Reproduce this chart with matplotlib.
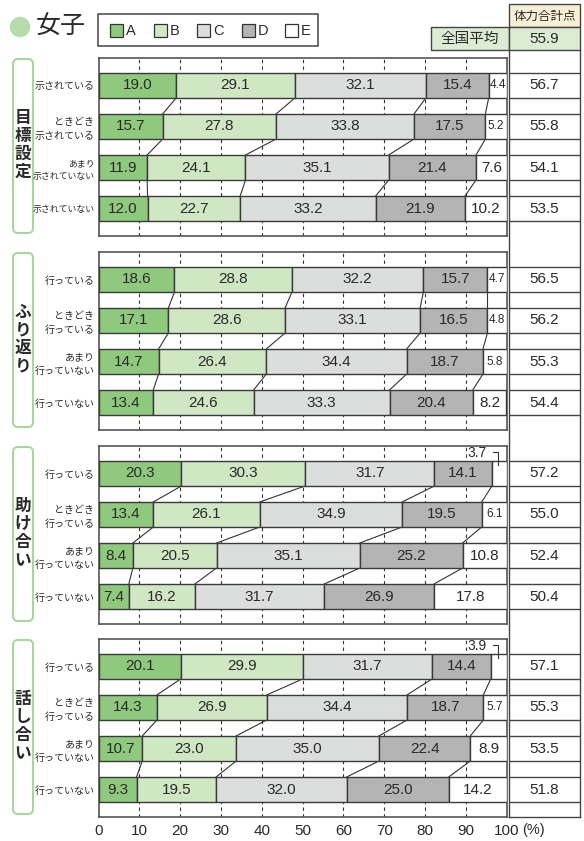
import matplotlib
matplotlib.use("Agg")
import matplotlib.pyplot as plt
from matplotlib.patches import Rectangle, FancyBboxPatch, Circle
import numpy as np

plt.rcParams['font.family'] = ['Noto Sans CJK JP', 'DejaVu Sans']

# ---------------- data ----------------
groups = ['目標設定', 'ふり返り', '助け合い', '話し合い']
row_labels_goal = ['示されている', 'ときどき\n示されている', 'あまり\n示されていない', '示されていない']
row_labels_act = ['行っている', 'ときどき\n行っている', 'あまり\n行っていない', '行っていない']
categories = ['A', 'B', 'C', 'D', 'E']

A_vals = [[19.0, 15.7, 11.9, 12.0], [18.6, 17.1, 14.7, 13.4], [20.3, 13.4, 8.4, 7.4], [20.1, 14.3, 10.7, 9.3]]
B_vals = [[29.1, 27.8, 24.1, 22.7], [28.8, 28.6, 26.4, 24.6], [30.3, 26.1, 20.5, 16.2], [29.9, 26.9, 23.0, 19.5]]
C_vals = [[32.1, 33.8, 35.1, 33.2], [32.2, 33.1, 34.4, 33.3], [31.7, 34.9, 35.1, 31.7], [31.7, 34.4, 35.0, 32.0]]
D_vals = [[15.4, 17.5, 21.4, 21.9], [15.7, 16.5, 18.7, 20.4], [14.1, 19.5, 25.2, 26.9], [14.4, 18.7, 22.4, 25.0]]
E_vals = [[4.4, 5.2, 7.6, 10.2], [4.7, 4.8, 5.8, 8.2], [3.7, 6.1, 10.8, 17.8], [3.9, 5.7, 8.9, 14.2]]
scores = [[56.7, 55.8, 54.1, 53.5], [56.5, 56.2, 55.3, 54.4], [57.2, 55.0, 52.4, 50.4], [57.1, 55.3, 53.5, 51.8]]
national_avg = 55.9
x_ticks = [0, 10, 20, 30, 40, 50, 60, 70, 80, 90, 100]

colors = ['#8ec97e', '#d0e7c4', '#dcdddd', '#b4b4b4', '#ffffff']
edge = '#3a3a3a'
txt = '#2a2a2a'
num_font = ['Liberation Sans', 'DejaVu Sans']
narrow_font = ['Liberation Sans Narrow', 'Liberation Sans', 'DejaVu Sans']

W, H = 584, 841
fig = plt.figure(figsize=(W / 100, H / 100), dpi=100)


def fbox(x0, y0, x1, y1):
    return [x0 / W, 1 - y1 / H, (x1 - x0) / W, (y1 - y0) / H]


# overlay for decorations (pixel coordinates)
ov = fig.add_axes([0, 0, 1, 1], zorder=0)
ov.set_xlim(0, W)
ov.set_ylim(H, 0)
ov.axis('off')

panel_tops = [58, 252, 446, 639]
panel_h = 178
ax_left, ax_right = 98.6, 506.6
col_left, col_right = 509, 580
bar_h = 0.61
ylim = (3.67, -0.67)

# header
ov.add_patch(Circle((20, 27), 9.5, color='#b5dcaa', zorder=2))
ov.text(36, 27, '女子', fontsize=18, va='center', ha='left', color=txt)
ov.add_patch(Rectangle((98, 14), 220, 32, fill=False, ec='#444', lw=1.1))
leg_x = [110, 154, 197, 242, 285]
for cx, col, lab in zip(leg_x, colors, categories):
    ov.add_patch(Rectangle((cx, 24), 13, 13, fc=col, ec='#333', lw=0.9))
    ov.text(cx + 16, 31, lab, fontsize=10.5, va='center', ha='left', family=num_font, color=txt)

ov.add_patch(Rectangle((col_left, 4), col_right - col_left, 23, fc='#f8f0d4', ec='#444', lw=1.0))
ov.text((col_left + col_right) / 2, 16, '体力合計点', fontsize=9, ha='center', va='center', color=txt)
ov.add_patch(Rectangle((431, 27), col_left - 431, 23, fc='#dcebd3', ec='#444', lw=1.0))
ov.text(470, 39, '全国平均', fontsize=10.5, ha='center', va='center', color=txt)
ov.add_patch(Rectangle((col_left, 27), col_right - col_left, 23, fc='#dcebd3', ec='#444', lw=1.0))
ov.text((col_left + col_right) / 2, 39, f'{national_avg:.1f}', fontsize=11, ha='center', va='center',
        family=num_font, color=txt)

# right column vertical lines
bottom_y = panel_tops[-1] + panel_h
ov.plot([col_left, col_left], [50, bottom_y], color='#444', lw=1.0)
ov.plot([col_right, col_right], [50, bottom_y], color='#444', lw=1.0)
ov.plot([col_left, col_right], [bottom_y, bottom_y], color='#444', lw=1.0)
ov.text(522, 830, '(%)', fontsize=10.5, ha='left', va='center', color=txt, family=num_font)

for g, top in enumerate(panel_tops):
    ax = fig.add_axes(fbox(ax_left, top, ax_right, top + panel_h), zorder=2)
    ax.set_xlim(0, 100)
    ax.set_ylim(*ylim)
    rows = np.arange(4)
    vals = np.array([A_vals[g], B_vals[g], C_vals[g], D_vals[g], E_vals[g]])
    cum = np.vstack([np.zeros(4), np.cumsum(vals, axis=0)])

    # dashed grid
    for xv in x_ticks[1:-1]:
        ax.axvline(xv, color='#333', lw=0.8, ls=(0, (3, 3)), zorder=1)

    for k in range(5):
        ax.barh(rows, vals[k], left=cum[k], height=bar_h, color=colors[k], edgecolor=edge,
                lw=1.0, zorder=3)

    # connectors
    for i in range(3):
        for k in range(1, 5):
            ax.plot([cum[k][i], cum[k][i + 1]], [i + bar_h / 2, i + 1 - bar_h / 2],
                    color='#333', lw=0.8, zorder=2)

    # labels
    for i in rows:
        for k in range(5):
            v = vals[k][i]
            xc = cum[k][i] + v / 2
            if k == 4 and v < 4:
                ax.text(92.8, i - bar_h / 2 - 0.2, f'{v:.1f}', ha='center', va='center',
                        fontsize=10, family=num_font, color=txt, zorder=5)
                ax.plot([96.6, 98, 98], [i - 0.53, i - 0.53, i - 0.21], color='#333', lw=0.8,
                        zorder=5, clip_on=False)
            elif k == 4 and v < 7:
                ax.text(xc, i, f'{v:.1f}', ha='center', va='center', fontsize=8.5,
                        family=narrow_font, color=txt, zorder=5)
            else:
                ax.text(xc, i, f'{v:.1f}', ha='center', va='center', fontsize=11,
                        family=num_font, color=txt, zorder=5)

    labels = row_labels_goal if g == 0 else row_labels_act
    ax.set_yticks(rows)
    tls = ax.set_yticklabels(labels, fontsize=7.2, color=txt, linespacing=1.45)
    for t, lab in zip(tls, labels):
        longest = max(len(s) for s in lab.split('\n'))
        if longest >= 7:
            t.set_fontsize(6.4)
    ax.tick_params(axis='y', length=0, pad=3)
    ax.set_xticks(x_ticks)
    if g == 3:
        ax.set_xticklabels([str(t) for t in x_ticks], fontsize=11, family=num_font, color=txt)
        ax.tick_params(axis='x', length=0, pad=5)
    else:
        ax.tick_params(axis='x', length=0, labelbottom=False)
    for sp in ax.spines.values():
        sp.set_color('#555')
        sp.set_linewidth(1.2)

    # right score column
    rax = fig.add_axes(fbox(col_left, top, col_right, top + panel_h), zorder=2)
    rax.set_xlim(0, 1)
    rax.set_ylim(*ylim)
    rax.patch.set_alpha(0)
    rax.axis('off')
    for i in rows:
        rax.plot([0, 1], [i - bar_h / 2, i - bar_h / 2], color='#444', lw=1.0)
        rax.plot([0, 1], [i + bar_h / 2, i + bar_h / 2], color='#444', lw=1.0)
        rax.text(0.5, i, f'{scores[g][i]:.1f}', ha='center', va='center', fontsize=11,
                 family=num_font, color=txt)

    # group box with vertical label
    ov.add_patch(FancyBboxPatch((13, top + 1), 20, panel_h - 4,
                                boxstyle='round,pad=0,rounding_size=5', fill=False,
                                ec='#a9d69c', lw=1.5))
    ov.text(23, top + panel_h / 2 - 2, '\n'.join(groups[g]), ha='center', va='center', fontsize=12,
            fontweight='bold', linespacing=1.0, color=txt)

fig.savefig('out.png', dpi=100)
